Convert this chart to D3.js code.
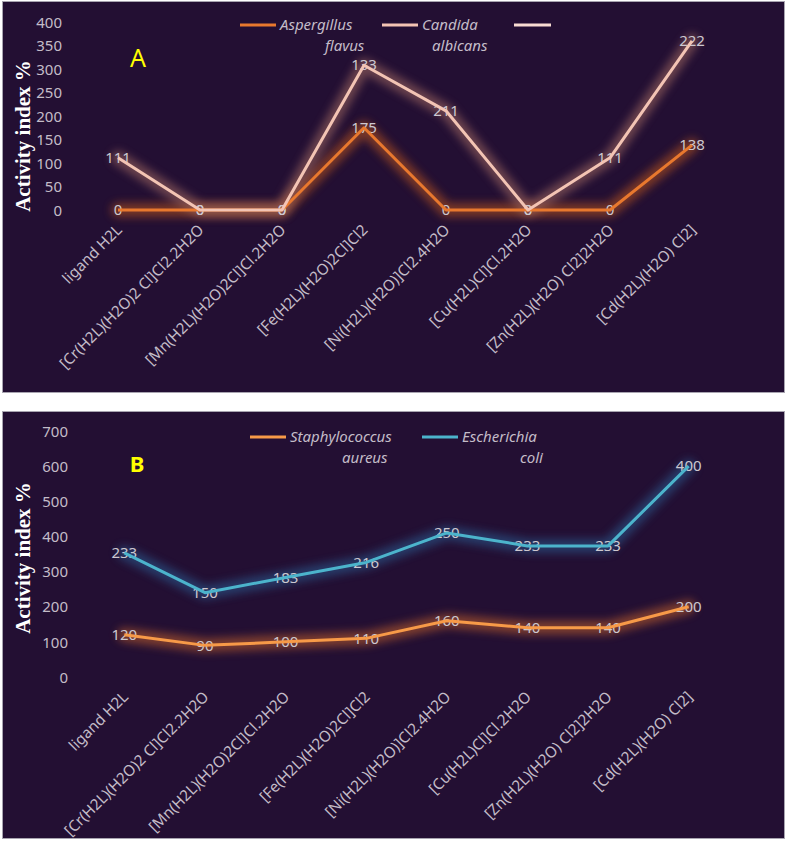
<!DOCTYPE html>
<html>
<head>
<meta charset="utf-8">
<script src="https://cdn.jsdelivr.net/npm/d3@7"></script>
<style>
  html, body { margin: 0; padding: 0; background: #ffffff; }
  svg { display: block; }
</style>
</head>
<body>
<svg id="chart" width="787" height="841"></svg>
<script>
// ---------- DATA ----------
const categories = [
  "ligand H2L",
  "[Cr(H2L)(H2O)2 Cl]Cl2.2H2O",
  "[Mn(H2L)(H2O)2Cl]Cl.2H2O",
  "[Fe(H2L)(H2O)2Cl]Cl2",
  "[Ni(H2L)(H2O)]Cl2.4H2O",
  "[Cu(H2L)Cl]Cl.2H2O",
  "[Zn(H2L)(H2O) Cl2]2H2O",
  "[Cd(H2L)(H2O) Cl2]"
];
// Panel A (fungi) - stacked lines
const aspergillusFlavus = [0, 0, 0, 175, 0, 0, 0, 138];
const candidaAlbicans   = [111, 0, 0, 133, 211, 0, 111, 222];
const legendA = ["Aspergillus flavus", "Candida albicans", ""];
const ticksA = [0, 50, 100, 150, 200, 250, 300, 350, 400];
// Panel B (bacteria) - stacked lines
const staphylococcusAureus = [120, 90, 100, 110, 160, 140, 140, 200];
const escherichiaColi      = [233, 150, 183, 216, 250, 233, 233, 400];
const legendB = ["Staphylococcus aureus", "Escherichia coli"];
const ticksB = [0, 100, 200, 300, 400, 500, 600, 700];

// ---------- STYLE ----------
const BG = "#230f33";
const TICK_COL = "#c3bcc8";
const LABEL_COL = "#cdc8d0";
const FONT = "'Noto Sans', 'Open Sans', sans-serif";

const svg = d3.select("#chart");
const defs = svg.append("defs");
defs.append("filter").attr("id", "glow")
  .attr("x", "-20%").attr("y", "-50%").attr("width", "140%").attr("height", "200%")
  .append("feGaussianBlur").attr("stdDeviation", 4.5);

function panel(cfg) {
  const g = svg.append("g");
  g.append("rect")
    .attr("x", cfg.box[0] + 0.5).attr("y", cfg.box[1] + 0.5)
    .attr("width", cfg.box[2]).attr("height", cfg.box[3])
    .attr("fill", BG).attr("stroke", "#a8a4b0").attr("stroke-width", 1);

  const x = d3.scaleBand().domain(categories).range(cfg.xRange);
  const cx = c => x(c) + x.bandwidth() / 2;
  const y = d3.scaleLinear().domain(cfg.yDomain).range(cfg.yRange);

  // y axis (labels only)
  const ya = g.append("g").attr("transform", `translate(${cfg.yTickX},0)`)
    .call(d3.axisLeft(y).tickValues(cfg.ticks).tickSize(0).tickPadding(0));
  ya.select(".domain").remove();
  ya.selectAll("text").attr("fill", TICK_COL).attr("font-family", FONT)
    .attr("font-size", 15).attr("dy", "0.35em");

  // x axis labels
  const xa = g.append("g").attr("transform", `translate(0,${cfg.yRange[0]})`)
    .call(d3.axisBottom(x).tickSize(0).tickPadding(0));
  xa.select(".domain").remove();
  xa.selectAll("text")
    .attr("fill", TICK_COL).attr("font-family", FONT).attr("font-size", 15.2)
    .attr("text-anchor", "end")
    .attr("y", 0).attr("x", 0).attr("dy", "0.35em")
    .attr("transform", `translate(1,${cfg.xLabOff}) rotate(-45)`);

  // y title
  g.append("text")
    .attr("transform", `translate(${cfg.titleX},${cfg.titleY}) rotate(-90)`)
    .attr("text-anchor", "middle").attr("dy", "0.35em")
    .attr("font-family", "'Liberation Serif', 'Times New Roman', serif")
    .attr("font-weight", "bold").attr("font-size", 21).attr("fill", "#ffffff")
    .text("Activity index %");

  // panel letter
  g.append("text").attr("x", cfg.letterPos[0]).attr("y", cfg.letterPos[1])
    .attr("text-anchor", "middle").attr("dy", "0.35em")
    .attr("font-family", FONT).attr("font-weight", cfg.letterWeight)
    .attr("font-size", cfg.letterSize).attr("fill", "#ffff00")
    .text(cfg.letter);

  // stacked series
  const rows = categories.map((c, i) => {
    const o = { cat: c };
    cfg.series.forEach(s => o[s.key] = s.values[i]);
    return o;
  });
  const stack = d3.stack().keys(cfg.series.map(s => s.key))(rows);
  const line = d3.line().x(d => cx(d.data.cat)).y(d => y(d[1]));

  stack.forEach((layer, si) => {
    const s = cfg.series[si];
    g.append("path").datum(layer).attr("d", line)
      .attr("fill", "none").attr("stroke", s.glow).attr("stroke-width", 14)
      .attr("stroke-linejoin", "round").attr("stroke-linecap", "round")
      .attr("opacity", 0.55).attr("filter", "url(#glow)");
  });
  stack.forEach((layer, si) => {
    const s = cfg.series[si];
    g.selectAll(null).data(layer).enter().append("text")
      .attr("x", d => cx(d.data.cat)).attr("y", d => y(d[1]))
      .attr("dy", "0.35em").attr("text-anchor", "middle")
      .attr("font-family", FONT).attr("font-size", 15).attr("fill", LABEL_COL)
      .text((d, i) => s.values[i]);
  });
  stack.forEach((layer, si) => {
    const s = cfg.series[si];
    g.append("path").datum(layer).attr("d", line)
      .attr("fill", "none").attr("stroke", s.color).attr("stroke-width", 3)
      .attr("stroke-linejoin", "round");
  });

  // legend
  cfg.legend.forEach(L => {
    g.append("line").attr("x1", L.lx[0]).attr("x2", L.lx[1])
      .attr("y1", L.ly).attr("y2", L.ly)
      .attr("stroke", L.color).attr("stroke-width", 3);
    L.lines.forEach((t, k) => {
      g.append("text").attr("x", L.tx[k]).attr("y", L.ly + k * 21)
        .attr("dy", "0.35em").attr("font-family", FONT).attr("font-style", "italic")
        .attr("font-size", 15).attr("fill", TICK_COL).text(t);
    });
  });
}

function splitName(n) {
  const p = n.split(" ");
  return p[0] ? [p[0], p.slice(1).join(" ")] : [];
}

panel({
  box: [2, 1, 782, 391],
  xRange: [77, 733], yDomain: [0, 400], yRange: [210, 22], ticks: ticksA,
  yTickX: 62, xLabOff: 17, titleX: 23, titleY: 136,
  letter: "A", letterPos: [138, 58], letterSize: 25, letterWeight: "normal",
  series: [
    { key: "a", values: aspergillusFlavus, color: "#e8782e", glow: "#c0581e" },
    { key: "c", values: candidaAlbicans, color: "#f3c4b4", glow: "#a86e64" }
  ],
  legend: [
    { color: "#e8782e", lx: [240, 276], ly: 25, lines: splitName(legendA[0]), tx: [280, 325] },
    { color: "#f3c4b4", lx: [382, 418], ly: 25, lines: splitName(legendA[1]), tx: [422, 432] },
    { color: "#f8dcd2", lx: [514, 551], ly: 25, lines: splitName(legendA[2]), tx: [556, 556] }
  ]
});

panel({
  box: [2, 411, 782, 427],
  xRange: [84, 729], yDomain: [0, 700], yRange: [677, 431], ticks: ticksB,
  yTickX: 68, xLabOff: 17, titleX: 23, titleY: 558,
  letter: "B", letterPos: [137, 464], letterSize: 22, letterWeight: "bold",
  series: [
    { key: "s", values: staphylococcusAureus, color: "#f79a48", glow: "#c8642a" },
    { key: "e", values: escherichiaColi, color: "#4cb4cc", glow: "#2a5e94" }
  ],
  legend: [
    { color: "#f79a48", lx: [250, 286], ly: 437, lines: splitName(legendB[0]), tx: [290, 342] },
    { color: "#4cb4cc", lx: [422, 458], ly: 437, lines: splitName(legendB[1]), tx: [462, 520] }
  ]
});
</script>
</body>
</html>
